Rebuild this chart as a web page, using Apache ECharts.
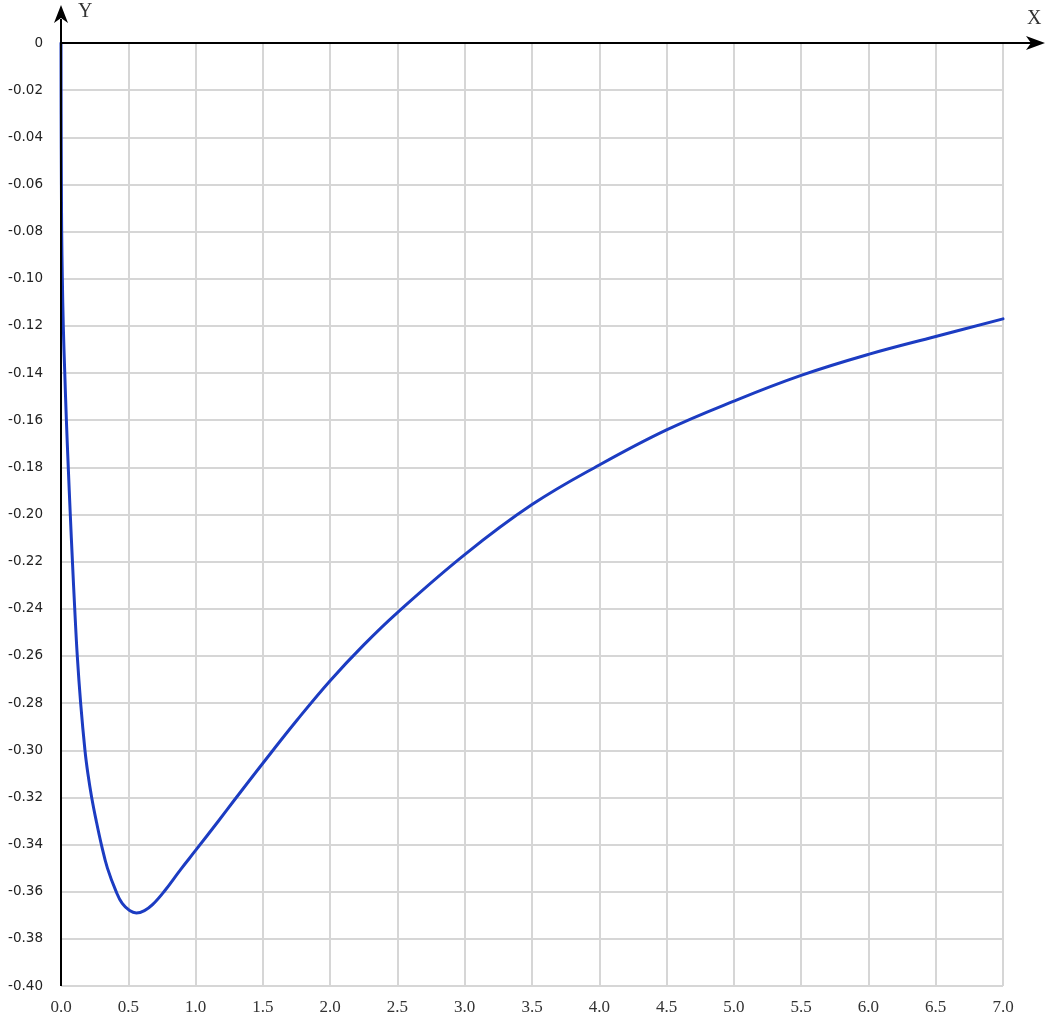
<!DOCTYPE html>
<html>
<head>
<meta charset="utf-8">
<script src="https://cdn.jsdelivr.net/npm/echarts@6/dist/echarts.min.js"></script>
<style>
html,body{margin:0;padding:0;background:#fff;}
#chart{width:1052px;height:1019px;}
</style>
</head>
<body>
<div id="chart"></div>
<script>
// Data
var xValues = [0, 0.001, 0.003, 0.005, 0.01, 0.017, 0.028, 0.04, 0.054, 0.069, 0.085, 0.102, 0.121, 0.146, 0.178, 0.2, 0.228, 0.262, 0.30, 0.345, 0.41, 0.455, 0.51, 0.56, 0.62, 0.68, 0.765, 0.89, 1.0, 1.17, 1.29, 1.5, 1.75, 2.0, 2.25, 2.5, 3.0, 3.5, 4.0, 4.5, 5.0, 5.5, 6.0, 6.5, 7.0];
var yValues = [0, -0.03, -0.06, -0.08, -0.10, -0.12, -0.14, -0.16, -0.18, -0.20, -0.22, -0.24, -0.26, -0.28, -0.30, -0.31, -0.32, -0.33, -0.34, -0.35, -0.36, -0.365, -0.368, -0.369, -0.368, -0.3655, -0.36, -0.3505, -0.3425, -0.330, -0.321, -0.3055, -0.2875, -0.2705, -0.2553, -0.2416, -0.2170, -0.1958, -0.1790, -0.1641, -0.1519, -0.1410, -0.1321, -0.1245, -0.117];
var xTickLabels = ['0.0','0.5','1.0','1.5','2.0','2.5','3.0','3.5','4.0','4.5','5.0','5.5','6.0','6.5','7.0'];
var axisNames = {x: 'X', y: 'Y'};

var points = xValues.map(function (x, i) { return [x, yValues[i]]; });

var chart = echarts.init(document.getElementById('chart'), null, {renderer: 'canvas'});
var option = {
  animation: false,
  backgroundColor: '#ffffff',
  grid: {left: 61, right: 49, top: 43, bottom: 33, containLabel: false},
  xAxis: {
    type: 'value', min: 0, max: 7, interval: 0.5,
    position: 'bottom',
    axisLine: {show: false, onZero: false},
    axisTick: {show: false},
    splitLine: {show: true, lineStyle: {color: '#d6d6d6', width: 2}},
    axisLabel: {
      margin: 13, color: '#333',
      fontFamily: 'Liberation Serif', fontSize: 17,
      formatter: function (v) { return xTickLabels[Math.round(v / 0.5)]; }
    }
  },
  yAxis: {
    type: 'value', min: -0.4, max: 0, interval: 0.02,
    axisLine: {show: false, onZero: false},
    axisTick: {show: false},
    splitLine: {show: true, lineStyle: {color: '#d6d6d6', width: 2}},
    axisLabel: {
      margin: 18, color: '#222',
      fontFamily: 'DejaVu Sans', fontSize: 13.5,
      formatter: function (v) { return Math.abs(v) < 1e-9 ? '0' : v.toFixed(2); }
    }
  },
  series: [{
    type: 'line',
    data: points,
    showSymbol: false,
    smooth: 0.4,
    lineStyle: {color: '#1c3cc2', width: 3, join: 'round', cap: 'round'},
    itemStyle: {color: '#1c3cc2'}
  }]
};
chart.setOption(option);

// axis arrows positioned through the chart's own scales
var o = chart.convertToPixel({xAxisIndex: 0, yAxisIndex: 0}, [0, 0]);
var bl = chart.convertToPixel({xAxisIndex: 0, yAxisIndex: 0}, [0, -0.4]);
var xEnd = 1045, yTop = 5;
chart.setOption({
  graphic: [
    {type: 'line', shape: {x1: o[0], y1: bl[1], x2: o[0], y2: yTop + 14}, style: {stroke: '#000', lineWidth: 2}, z: 100},
    {type: 'polygon', shape: {points: [[o[0], yTop], [o[0] - 7, yTop + 18], [o[0], yTop + 13], [o[0] + 7, yTop + 18]]}, style: {fill: '#000'}, z: 100},
    {type: 'line', shape: {x1: o[0], y1: o[1], x2: xEnd - 12, y2: o[1]}, style: {stroke: '#000', lineWidth: 2}, z: 100},
    {type: 'polygon', shape: {points: [[xEnd, o[1]], [xEnd - 19, o[1] - 7], [xEnd - 14, o[1]], [xEnd - 19, o[1] + 7]]}, style: {fill: '#000'}, z: 100},
    {type: 'text', style: {text: axisNames.y, x: o[0] + 17, y: 2, fill: '#333', font: '20px "Liberation Serif"'}, z: 100},
    {type: 'text', style: {text: axisNames.x, x: xEnd - 18, y: 9, fill: '#333', font: '20px "Liberation Serif"'}, z: 100}
  ]
});
</script>
</body>
</html>
